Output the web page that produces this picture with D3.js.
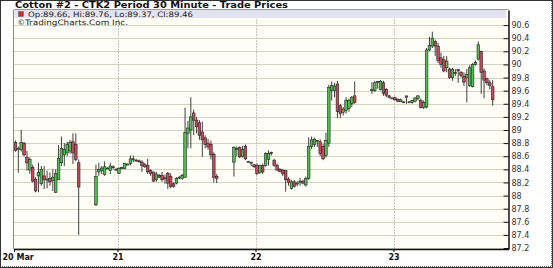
<!DOCTYPE html>
<html>
<head>
<meta charset="utf-8">
<script src="https://cdn.jsdelivr.net/npm/d3@7"></script>
<style>
  body { margin: 0; background: #fff; }
  svg { display: block; }
  .title { font-family: "DejaVu Sans", sans-serif; font-weight: bold; font-size: 9px; fill: #111; }
  .legend { font-family: "DejaVu Sans", sans-serif; font-size: 7.5px; fill: #222; }
  .y-axis text { font-family: "DejaVu Sans", sans-serif; font-size: 8px; fill: #333; }
  .x-axis text { font-family: "DejaVu Sans", sans-serif; font-weight: bold; font-size: 8px; fill: #111; }
</style>
</head>
<body>
<div class="chart"></div>
<script>
// chart size and plot box
var svgWidth = 553;
var svgHeight = 268;
var margin = { top: 10, right: 45, bottom: 19, left: 14 };
var width = 508.5 - margin.left;
var height = svgHeight - margin.top - margin.bottom;

// ---- data ----
var title = "Cotton #2 - CTK2 Period 30 Minute - Trade Prices";
var legendText = "Op:89.66, Hi:89.76, Lo:89.37, Cl:89.46";
var creditText = "TradingCharts.Com Inc.";

// each trading session: first bar time and number of 30 minute bars
var sessionStarts = ["2012-03-20T06:00", "2012-03-20T20:00", "2012-03-21T20:00", "2012-03-22T20:00"];
var sessionBars = [23, 43, 43, 43];

var dayTicks = ["2012-03-20T06:00", "2012-03-21T00:00", "2012-03-22T00:00", "2012-03-23T00:00"];
var dayLabels = ["20 Mar", "21", "22", "23"];
var priceTicks = [87.2, 87.4, 87.6, 87.8, 88, 88.2, 88.4, 88.6, 88.8, 89, 89.2, 89.4, 89.6, 89.8, 90, 90.2, 90.4, 90.6];

var opens = [
  88.81, 88.70, 88.70, 88.80, 88.58, 88.39, 88.43, 88.25, 88.30, 88.18, 88.30, 88.24, 88.26, 88.23, 88.05, 88.24, 88.50, 88.62, 88.65, 88.68, 88.82, 88.78, 88.50,
  87.86, 88.36, 88.38, 88.32, 88.42, 88.38, 88.44, 88.40, 88.34, 88.42, 88.41, 88.48, 88.49, 88.56, 88.54, 88.53, 88.51, 88.47, 88.46, 88.38, 88.36, 88.24,
  88.31, 88.31, 88.27, 88.34, 88.29, 88.18, 88.19, 88.27, 88.26, 88.28, 88.95, 89.00, 89.26, 89.15, 89.11, 88.97, 88.88, 88.80, 88.78, 88.63, 88.29,
  88.51, 88.70, 88.73, 88.60, 88.75, 88.52, 88.51, 88.47, 88.46, 88.35, 88.46, 88.46, 88.55, 88.66, 88.54, 88.46, 88.40, 88.39, 88.38, 88.25, 88.11,
  88.21, 88.18, 88.22, 88.22, 88.16, 88.26, 88.75, 88.78, 88.84, 88.82, 88.75, 88.61, 88.80, 89.60, 89.60, 89.70, 89.37, 89.27, 89.30, 89.33, 89.40, 89.52,
  89.60, 89.60, 89.73, 89.62, 89.72, 89.62, 89.52, 89.49, 89.49, 89.47, 89.43, 89.43, 89.52, 89.43, 89.42, 89.44, 89.48, 89.45, 89.34, 89.35, 90.22,
  90.28, 90.35, 90.28, 90.10, 90.07, 89.95, 89.93, 89.80, 89.88, 89.92, 89.88, 89.82, 89.80, 89.68, 89.66, 90.00, 90.08, 90.20, 89.90, 89.78, 89.72, 89.66
];
var highs = [
  88.84, 88.75, 89.00, 88.82, 88.68, 88.58, 88.47, 88.28, 88.50, 88.45, 88.45, 88.38, 88.35, 88.40, 88.40, 88.77, 88.90, 88.80, 88.82, 88.85, 88.95, 88.95, 88.55,
  88.47, 88.50, 88.45, 88.52, 88.43, 88.50, 88.46, 88.42, 88.43, 88.44, 88.50, 88.49, 88.61, 88.61, 88.56, 88.55, 88.54, 88.50, 88.56, 88.40, 88.36, 88.36,
  88.33, 88.36, 88.32, 88.36, 88.34, 88.20, 88.28, 88.30, 88.33, 89.34, 89.14, 89.50, 89.31, 89.20, 89.15, 89.13, 88.92, 88.86, 88.84, 88.66, 88.33,
  88.75, 88.75, 88.75, 88.76, 88.78, 88.53, 88.51, 88.48, 88.49, 88.47, 88.49, 88.66, 88.69, 88.67, 88.56, 88.49, 88.42, 88.40, 88.38, 88.28, 88.24,
  88.24, 88.22, 88.27, 88.24, 88.29, 88.89, 88.90, 88.88, 88.84, 88.86, 88.79, 88.96, 89.69, 89.74, 89.72, 89.75, 89.40, 89.35, 89.50, 89.48, 89.52, 89.74,
  89.73, 89.75, 89.75, 89.76, 89.75, 89.64, 89.54, 89.50, 89.51, 89.48, 89.48, 89.44, 89.52, 89.44, 89.46, 89.50, 89.53, 89.48, 89.45, 90.25, 90.42,
  90.50, 90.38, 90.33, 90.18, 90.13, 90.13, 89.95, 89.95, 89.93, 89.93, 89.90, 89.88, 89.93, 89.99, 90.02, 90.06, 90.35, 90.21, 89.94, 89.80, 89.76, 89.76
];
var lows = [
  88.67, 88.35, 88.67, 88.60, 88.38, 88.33, 88.20, 88.05, 88.05, 88.15, 88.10, 88.11, 88.15, 88.07, 88.04, 88.24, 88.45, 88.45, 88.60, 88.64, 88.48, 88.52, 87.40,
  87.84, 88.30, 88.33, 88.30, 88.41, 88.33, 88.40, 88.39, 88.33, 88.40, 88.40, 88.47, 88.46, 88.51, 88.52, 88.50, 88.36, 88.42, 88.33, 88.30, 88.21, 88.21,
  88.27, 88.21, 88.18, 88.10, 88.11, 88.12, 88.17, 88.25, 88.24, 88.27, 88.72, 88.72, 88.92, 88.95, 88.85, 88.59, 88.72, 88.70, 88.55, 88.20, 88.19,
  88.29, 88.60, 88.57, 88.58, 88.54, 88.51, 88.45, 88.42, 88.31, 88.33, 88.33, 88.44, 88.46, 88.61, 88.44, 88.37, 88.35, 88.30, 88.06, 88.15, 88.09,
  88.12, 88.14, 88.15, 88.17, 88.14, 88.24, 88.71, 88.74, 88.74, 88.60, 88.54, 88.58, 88.74, 89.45, 89.50, 89.18, 89.18, 89.22, 89.25, 89.28, 89.35, 89.40,
  89.55, 89.58, 89.63, 89.60, 89.52, 89.50, 89.48, 89.48, 89.45, 89.42, 89.43, 89.42, 89.40, 89.42, 89.40, 89.42, 89.45, 89.33, 89.32, 89.33, 90.20,
  90.25, 90.13, 90.02, 89.95, 89.88, 89.88, 89.78, 89.75, 89.82, 89.72, 89.80, 89.67, 89.42, 89.66, 89.65, 89.98, 90.06, 89.55, 89.48, 89.68, 89.62, 89.37
];
var closes = [
  88.69, 88.72, 88.81, 88.62, 88.50, 88.55, 88.22, 88.07, 88.35, 88.40, 88.24, 88.25, 88.21, 88.28, 88.34, 88.57, 88.72, 88.70, 88.78, 88.81, 88.65, 88.55, 88.13,
  88.29, 88.40, 88.42, 88.44, 88.42, 88.45, 88.43, 88.40, 88.41, 88.43, 88.49, 88.48, 88.56, 88.56, 88.53, 88.52, 88.46, 88.44, 88.36, 88.34, 88.22, 88.33,
  88.28, 88.24, 88.27, 88.19, 88.14, 88.14, 88.26, 88.28, 88.31, 88.96, 89.03, 89.20, 89.15, 89.05, 88.92, 88.85, 88.78, 88.74, 88.62, 88.28, 88.26,
  88.73, 88.72, 88.59, 88.70, 88.56, 88.52, 88.50, 88.44, 88.34, 88.46, 88.36, 88.64, 88.64, 88.64, 88.46, 88.39, 88.37, 88.33, 88.24, 88.20, 88.21,
  88.14, 88.19, 88.22, 88.19, 88.26, 88.75, 88.85, 88.86, 88.83, 88.64, 88.56, 88.84, 89.65, 89.68, 89.67, 89.28, 89.25, 89.32, 89.45, 89.45, 89.50, 89.42,
  89.62, 89.72, 89.74, 89.74, 89.56, 89.53, 89.50, 89.49, 89.46, 89.44, 89.46, 89.43, 89.50, 89.43, 89.45, 89.49, 89.52, 89.34, 89.42, 90.22, 90.29,
  90.40, 90.28, 90.06, 90.00, 89.90, 90.05, 89.80, 89.92, 89.86, 89.90, 89.83, 89.73, 89.85, 89.95, 90.00, 90.03, 90.30, 89.88, 89.76, 89.72, 89.68, 89.46
];

// ---- build bar records ----
var parseTime = d3.timeParse("%Y-%m-%dT%H:%M");
var halfHour = 30 * 60 * 1000;
var bars = [];
sessionStarts.forEach(function(s, si) {
  var t0 = parseTime(s).getTime();
  for (var i = 0; i < sessionBars[si]; i++) {
    var n = bars.length;
    bars.push({
      time: new Date(t0 + i * halfHour + halfHour / 2),
      open: opens[n], high: highs[n], low: lows[n], close: closes[n]
    });
  }
});

// ---- svg ----
var svg = d3.select(".chart")
  .append("svg")
  .attr("width", svgWidth)
  .attr("height", svgHeight);

svg.append("rect")
  .attr("x", 0.5).attr("y", 0.5)
  .attr("width", svgWidth - 1).attr("height", svgHeight - 1)
  .attr("fill", "#fff")
  .attr("stroke", "#333");

// dotted lower and right edges like the original image frame
svg.append("path")
  .attr("d", `M${svgWidth - 1.5},1 V${svgHeight - 1.5} H1`)
  .attr("fill", "none")
  .attr("stroke", "#666")
  .attr("stroke-dasharray", "1,1");

svg.append("text")
  .attr("class", "title")
  .attr("x", 15)
  .attr("y", 8)
  .attr("textLength", 273)
  .attr("lengthAdjust", "spacingAndGlyphs")
  .text(title);

var chartGroup = svg.append("g")
  .attr("transform", `translate(${margin.left},${margin.top})`);

// scales
var xScale = d3.scaleTime()
  .domain([parseTime("2012-03-20T06:00"), parseTime("2012-03-23T20:00")])
  .range([0, width]);

var yScale = d3.scaleLinear()
  .domain([87.185, 90.83])
  .range([height, 0]);

// plot background
chartGroup.append("rect")
  .attr("width", width)
  .attr("height", height)
  .attr("fill", "#fefef7");

// horizontal grid
chartGroup.append("g")
  .selectAll("line")
  .data(priceTicks)
  .enter()
  .append("line")
  .attr("x1", 0).attr("x2", width)
  .attr("y1", d => Math.round(yScale(d)) + 0.5)
  .attr("y2", d => Math.round(yScale(d)) + 0.5)
  .attr("stroke", "#d3d3c4");

// vertical day grid
chartGroup.append("g")
  .selectAll("line")
  .data(dayTicks.slice(1))
  .enter()
  .append("line")
  .attr("x1", d => Math.round(xScale(parseTime(d))) + 0.5)
  .attr("x2", d => Math.round(xScale(parseTime(d))) + 0.5)
  .attr("y1", 0).attr("y2", height)
  .attr("stroke", "#c4c4ba")
  .attr("stroke-dasharray", "2,1");

// legend band
chartGroup.append("rect")
  .attr("x", 0.5).attr("y", 0)
  .attr("width", width - 3).attr("height", 8)
  .attr("fill", "#e3e3ef");

chartGroup.append("rect")
  .attr("x", 4.5).attr("y", 1.5)
  .attr("width", 5).attr("height", 5)
  .attr("fill", "#cc2a2a")
  .attr("stroke", "#666")
  .attr("stroke-width", 0.5);

chartGroup.append("text")
  .attr("class", "legend")
  .attr("x", 14).attr("y", 6.8)
  .attr("textLength", 165)
  .attr("lengthAdjust", "spacingAndGlyphs")
  .text(legendText);

chartGroup.append("text")
  .attr("class", "legend")
  .attr("x", 3.5).attr("y", 14.8)
  .text("\u00a9");

chartGroup.append("text")
  .attr("class", "legend")
  .attr("x", 11).attr("y", 14.8)
  .attr("textLength", 103)
  .attr("lengthAdjust", "spacingAndGlyphs")
  .text(creditText);

// candles
var bodyW = 2.6;
var candles = chartGroup.append("g")
  .selectAll("g")
  .data(bars)
  .enter()
  .append("g");

candles.append("line")
  .attr("x1", d => xScale(d.time))
  .attr("x2", d => xScale(d.time))
  .attr("y1", d => yScale(d.high))
  .attr("y2", d => yScale(d.low))
  .attr("stroke", "#2a2a2a")
  .attr("stroke-width", 0.9);

candles.append("rect")
  .attr("x", d => xScale(d.time) - bodyW / 2)
  .attr("y", d => yScale(Math.max(d.open, d.close)))
  .attr("width", bodyW)
  .attr("height", d => Math.max(1, Math.abs(yScale(d.open) - yScale(d.close))))
  .attr("fill", d => d.close >= d.open ? "#4fbf4f" : "#c9475a")
  .attr("stroke", "#222")
  .attr("stroke-width", 0.6);

// axes
var bottomAxis = d3.axisBottom(xScale)
  .tickValues(dayTicks.map(parseTime))
  .tickFormat((d, i) => dayLabels[i])
  .tickSizeInner(3)
  .tickSizeOuter(0)
  .tickPadding(2);

var rightAxis = d3.axisRight(yScale)
  .tickValues(priceTicks)
  .tickFormat(d => String(Math.round(d * 10) / 10))
  .tickSizeInner(-5)
  .tickSizeOuter(0)
  .tickPadding(3);

// left and top frame
chartGroup.append("line")
  .attr("x1", -0.5).attr("x2", -0.5)
  .attr("y1", 0).attr("y2", height)
  .attr("stroke", "#888");
chartGroup.append("line")
  .attr("x1", 0).attr("x2", width)
  .attr("y1", -0.5).attr("y2", -0.5)
  .attr("stroke", "#999");

var xAxisG = chartGroup.append("g")
  .attr("class", "x-axis")
  .attr("transform", `translate(0, ${height})`)
  .call(bottomAxis);
xAxisG.select(".domain").attr("stroke", "#111").attr("stroke-width", 1.5);
xAxisG.selectAll("text")
  .attr("text-anchor", (d, i) => i === 0 ? "start" : "middle")
  .attr("dx", (d, i) => i === 0 ? -12 : 0);

var yAxisG = chartGroup.append("g")
  .attr("class", "y-axis")
  .attr("transform", `translate(${width}, 0)`)
  .call(rightAxis);
yAxisG.select(".domain").attr("stroke", "#111").attr("stroke-width", 1.5);
yAxisG.selectAll(".tick line").attr("stroke", "#111");
</script>
</body>
</html>
